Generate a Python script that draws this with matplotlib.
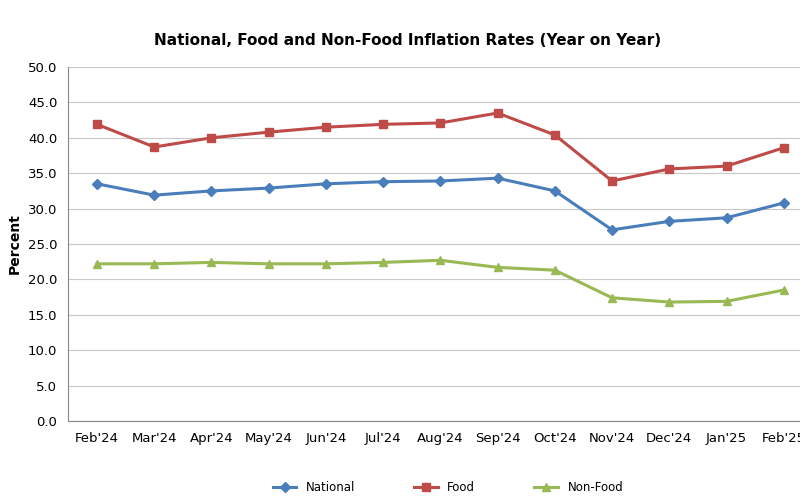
import matplotlib.pyplot as plt
import matplotlib.ticker as mticker

months = ["Feb'24", "Mar'24", "Apr'24", "May'24", "Jun'24", "Jul'24", "Aug'24",
          "Sep'24", "Oct'24", "Nov'24", "Dec'24", "Jan'25", "Feb'25"]
national = [33.5, 31.9, 32.5, 32.9, 33.5, 33.8, 33.9, 34.3, 32.5, 27.0, 28.2, 28.7, 30.8]
food = [41.9, 38.7, 40.0, 40.8, 41.5, 41.9, 42.1, 43.5, 40.4, 33.9, 35.6, 36.0, 38.6]
non_food = [22.2, 22.2, 22.4, 22.2, 22.2, 22.4, 22.7, 21.7, 21.3, 17.4, 16.8, 16.9, 18.5]

fig = plt.figure(figsize=(8, 5), dpi=100)
ax = fig.add_axes([0.0855, 0.158, 0.93, 0.708])
x = range(len(months))

ax.plot(x, national, color='#4a7ebb', marker='D', markersize=5, linewidth=2.2, label='National')
ax.plot(x, food, color='#be4b48', marker='s', markersize=6, linewidth=2.2, label='Food')
ax.plot(x, non_food, color='#98b954', marker='^', markersize=6, linewidth=2.2, label='Non-Food')

ax.set_xlim(-0.5, 12.5)
ax.set_ylim(0, 50)
ax.yaxis.set_major_locator(mticker.MultipleLocator(5))
ax.yaxis.set_major_formatter(mticker.FormatStrFormatter('%.1f'))
ax.set_xticks(list(x))
ax.set_xticklabels(months)
ax.tick_params(labelsize=9.5, length=0, pad=8)
ax.grid(axis='y', color='#c8c8c8', linewidth=0.8)
ax.set_axisbelow(True)
for s in ['top', 'right']:
    ax.spines[s].set_visible(False)
ax.spines['left'].set_color('#888888')
ax.spines['bottom'].set_color('#888888')

ax.set_ylabel('Percent', fontsize=10, fontweight='bold')
fig.text(0.51, 0.91, 'National, Food and Non-Food Inflation Rates (Year on Year)',
         ha='center', fontsize=11, fontweight='bold')
fig.legend(loc='lower center', bbox_to_anchor=(0.56, -0.01), ncol=3, frameon=False,
           fontsize=8.5, columnspacing=5)

fig.savefig('out.png')
